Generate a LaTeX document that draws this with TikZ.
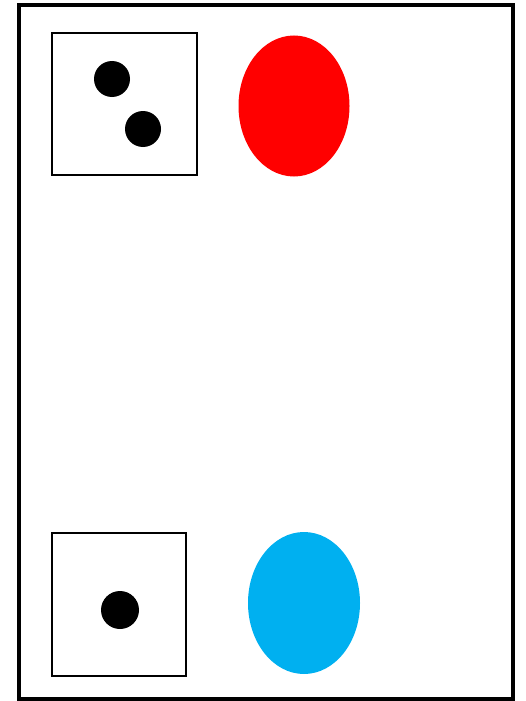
\documentclass[tikz,border=0pt]{standalone}
\usetikzlibrary{shapes.geometric, positioning}
\definecolor{skyblue}{RGB}{0,176,240}

\begin{document}
\begin{tikzpicture}[
    x=1pt, y=-1pt, % one unit per pixel, y running down
    frame/.style={draw, line width=3.1pt}, % Style for the outer border
    cardbox/.style={draw, line width=2.5pt, inner sep=0pt}, % Style for the dot boxes
    blob/.style={ellipse, inner sep=0pt, minimum width=111pt, minimum height=141pt}, % Style for the ellipses
    dot/.style={circle, fill=black, inner sep=0pt, minimum size=36pt} % Style for the dots
]

    % Fix the picture size
    \useasboundingbox (0,0) rectangle (526,701);

    % Outer border
    \draw[frame] (19,5) rectangle (513,699);

    % Top row: box with two dots, red ellipse
    \node[cardbox, minimum width=145pt, minimum height=142pt] (topbox) at (124.5,104) {};
    \node[dot] (topdotA) at (112,79) {};
    \node[dot] (topdotB) at (143,129) {};
    \node[blob, fill=red] (redblob) at (294,106) {};

    % Bottom row: box with one dot, blue ellipse
    \node[cardbox, minimum width=134pt, minimum height=143pt] (botbox) at (119,604.5) {};
    \node[dot, minimum size=38pt] (botdot) at (120,610) {};
    \node[blob, fill=skyblue, minimum width=112pt, minimum height=142pt] (blueblob) at (304,603) {};

\end{tikzpicture}
\end{document}
